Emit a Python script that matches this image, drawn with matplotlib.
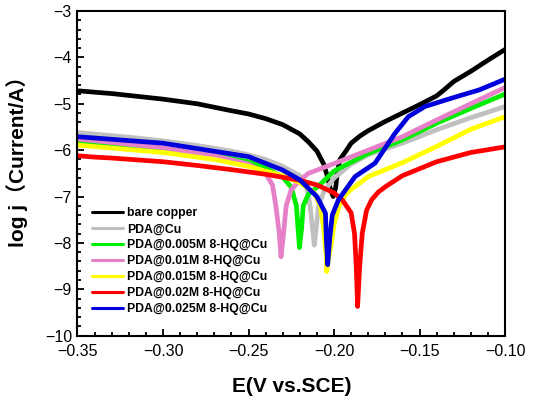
import matplotlib
matplotlib.use("Agg")
import matplotlib.pyplot as plt
from matplotlib.ticker import MultipleLocator

plt.rcParams['font.family'] = ['Liberation Sans', 'Noto Sans CJK SC', 'DejaVu Sans']

labels = ["bare copper", "PDA@Cu", "PDA@0.005M 8-HQ@Cu", "PDA@0.01M 8-HQ@Cu",
          "PDA@0.015M 8-HQ@Cu", "PDA@0.02M 8-HQ@Cu", "PDA@0.025M 8-HQ@Cu"]
colors = ["#000000", "#c0c0c0", "#00ee00", "#e680c8", "#ffff00", "#ff0000", "#0000dd"]

bare_E = [-0.35, -0.33, -0.30, -0.28, -0.26, -0.25, -0.24, -0.23, -0.22, -0.215, -0.21, -0.206,
          -0.204, -0.202, -0.2005, -0.199, -0.198, -0.1965, -0.1936, -0.19, -0.185, -0.18, -0.17,
          -0.16, -0.15, -0.14, -0.135, -0.13, -0.12, -0.11, -0.10]
bare_J = [-4.72, -4.78, -4.90, -5.00, -5.15, -5.22, -5.32, -5.45, -5.65, -5.82, -6.02, -6.30,
          -6.55, -6.85, -7.00, -6.80, -6.45, -6.20, -6.05, -5.85, -5.70, -5.58, -5.38,
          -5.20, -5.02, -4.83, -4.68, -4.52, -4.30, -4.06, -3.83]

pda_E = [-0.35, -0.32, -0.30, -0.28, -0.26, -0.25, -0.24, -0.23, -0.22, -0.216, -0.214, -0.2125,
         -0.2115, -0.2105, -0.209, -0.206, -0.203, -0.20, -0.19, -0.18, -0.16, -0.14, -0.12, -0.10]
pda_J = [-5.62, -5.72, -5.80, -5.90, -6.02, -6.10, -6.20, -6.35, -6.55, -6.80, -7.20, -7.70,
         -8.05, -7.70, -7.20, -6.90, -6.75, -6.60, -6.30, -6.10, -5.85, -5.56, -5.30, -5.06]

q005_E = [-0.35, -0.30, -0.27, -0.25, -0.24, -0.23, -0.225, -0.222, -0.221, -0.2202, -0.219,
          -0.218, -0.215, -0.21, -0.207, -0.20, -0.18, -0.16, -0.14, -0.12, -0.10]
q005_J = [-5.82, -5.98, -6.12, -6.25, -6.38, -6.58, -6.80, -7.20, -7.70, -8.10, -7.70,
          -7.20, -6.95, -6.80, -6.70, -6.45, -6.07, -5.78, -5.42, -5.10, -4.79]

q01_E = [-0.35, -0.30, -0.27, -0.25, -0.24, -0.236, -0.234, -0.232, -0.231, -0.2295, -0.228,
         -0.225, -0.22, -0.215, -0.20, -0.18, -0.16, -0.14, -0.12, -0.10]
q01_J = [-5.76, -5.95, -6.12, -6.30, -6.50, -6.75, -7.20, -7.80, -8.30, -7.80, -7.20,
         -6.85, -6.65, -6.50, -6.29, -6.00, -5.71, -5.35, -5.00, -4.65]

q015_E = [-0.35, -0.30, -0.27, -0.25, -0.23, -0.22, -0.212, -0.208, -0.206, -0.2045, -0.2043,
          -0.203, -0.2015, -0.20, -0.197, -0.193, -0.19, -0.18, -0.16, -0.14, -0.12, -0.10]
q015_J = [-5.89, -6.05, -6.20, -6.35, -6.55, -6.70, -6.90, -7.20, -7.70, -8.30, -8.62,
          -8.30, -8.00, -7.60, -7.20, -6.95, -6.85, -6.57, -6.27, -5.92, -5.55, -5.28]

q02_E = [-0.35, -0.34, -0.33, -0.30, -0.28, -0.26, -0.24, -0.22, -0.21, -0.20, -0.195, -0.19,
         -0.188, -0.187, -0.1862, -0.185, -0.1835, -0.181, -0.178, -0.174, -0.17, -0.16, -0.14,
         -0.12, -0.10]
q02_J = [-6.12, -6.15, -6.17, -6.25, -6.33, -6.42, -6.52, -6.65, -6.75, -6.92, -7.08, -7.35,
         -7.80, -8.50, -9.37, -8.50, -7.80, -7.30, -7.07, -6.90, -6.79, -6.55, -6.25,
         -6.05, -5.93]

q025_E = [-0.35, -0.30, -0.25, -0.23, -0.22, -0.21, -0.205, -0.2045, -0.2037, -0.2025, -0.201,
          -0.1974, -0.1877, -0.176, -0.1644, -0.1566, -0.1469, -0.1313, -0.115, -0.10]
q025_J = [-5.71, -5.85, -6.14, -6.43, -6.64, -7.00, -7.36, -7.90, -8.47, -7.90, -7.40,
          -7.07, -6.57, -6.28, -5.64, -5.28, -5.06, -4.88, -4.70, -4.47]

series_E = [bare_E, pda_E, q005_E, q01_E, q015_E, q02_E, q025_E]
series_J = [bare_J, pda_J, q005_J, q01_J, q015_J, q02_J, q025_J]

fig = plt.figure(figsize=(5.33, 3.96), dpi=100)
ax = fig.add_axes([0.1454, 0.1523, 0.8021, 0.8199])

for E, J, c, lab in zip(series_E, series_J, colors, labels):
    ax.plot(E, J, color=c, lw=3.4, label=lab, solid_joinstyle='round', solid_capstyle='round')

ax.set_xlim(-0.35, -0.10)
ax.set_ylim(-10, -3)
ax.xaxis.set_major_locator(MultipleLocator(0.05))
ax.xaxis.set_minor_locator(MultipleLocator(0.01))
ax.yaxis.set_major_locator(MultipleLocator(1))
ax.yaxis.set_minor_locator(MultipleLocator(0.2))
ax.xaxis.set_major_formatter(matplotlib.ticker.FuncFormatter(lambda v, p: f"{v:.2f}".replace('-', '\u2212')))
ax.tick_params(which='both', direction='in', top=False, right=False, labelsize=11.5, width=1.3)
ax.tick_params(which='major', length=5)
ax.tick_params(which='minor', length=3)
ax.tick_params(axis='x', pad=6)
ax.tick_params(axis='y', pad=4)
for t in ax.get_yticklabels():
    t.set_verticalalignment('center_baseline')
for s in ax.spines.values():
    s.set_linewidth(1.5)

ax.set_xlabel("E(V vs.SCE)", fontsize=15, fontweight='bold', labelpad=13)
fig.text(0.032, 0.605, "log j\uff08Current/A\uff09", rotation=90, fontsize=15, fontweight='bold',
         ha='center', va='center')

leg = ax.legend(loc='upper left', bbox_to_anchor=(0.035, 0.395), frameon=False,
                prop={'size': 8.8, 'weight': 'bold'}, handlelength=2.5, handletextpad=0.3,
                labelspacing=0.32, borderpad=0, borderaxespad=0)
for h in leg.get_lines():
    h.set_linewidth(2.2)

fig.savefig("out.png", dpi=100)
